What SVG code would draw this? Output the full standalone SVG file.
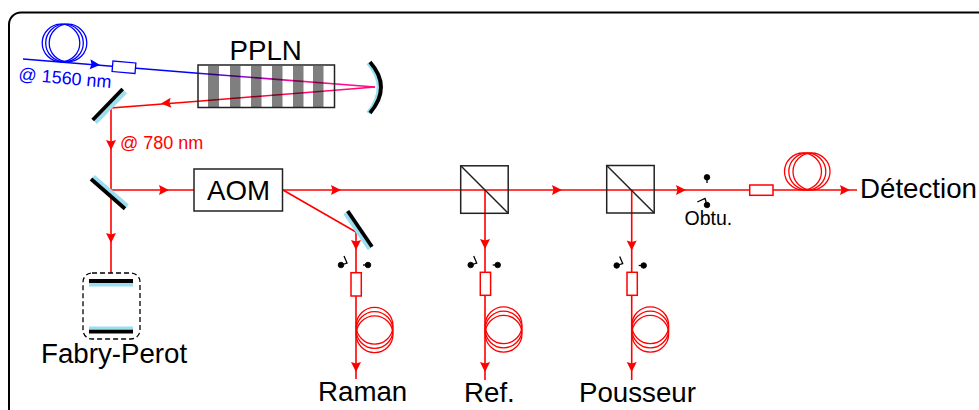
<svg xmlns="http://www.w3.org/2000/svg" width="979" height="410" viewBox="0 0 979 410">
<style>
text{font-family:"Liberation Sans",Arial,sans-serif;fill:#000}
.lbl{font-size:27.700px}
.r{stroke:#f00;fill:none;stroke-width:1.6}
.b{stroke:#00f;fill:none;stroke-width:1.6}
.fr{stroke:#f00;fill:none;stroke-width:1.300}
.fb{stroke:#00f;fill:none;stroke-width:1.300}
.iso{fill:#fff;stroke:#f00;stroke-width:1.500}
.box{fill:none;stroke:#222;stroke-width:1.500}
.mb{stroke:#000;stroke-width:3.800;fill:none}
.mc{stroke:#9adff0;stroke-width:4;fill:none}
.d{fill:#000;stroke:#000;stroke-width:.8}
.sw{stroke:#000;stroke-width:1.300;fill:none}
.st{fill:#000;fill-opacity:.5}
</style>
<defs>
<path id="ar" d="M0 0L-10 -5L-8.500 0L-10 5Z" fill="#f00" stroke="none"/>
<path id="ab" d="M0 0L-10 -5L-8.500 0L-10 5Z" fill="#00f" stroke="none"/>
<linearGradient id="gb" gradientUnits="userSpaceOnUse" x1="198" y1="0" x2="300" y2="0"><stop offset="0" stop-color="#2a00ff"/><stop offset="1" stop-color="#ff0a90"/></linearGradient>
<linearGradient id="gr" gradientUnits="userSpaceOnUse" x1="198" y1="0" x2="320" y2="0"><stop offset="0" stop-color="#f00"/><stop offset="1" stop-color="#ff0a70"/></linearGradient>
<g id="cube"><rect class="box" x="0" y="0" width="47.500" height="47.500"/><path class="box" d="M0 0L47.500 47.500"/></g>
<g id="fv"><circle class="fr" cx="18.600" cy="-4.200" r="18.400"/><circle class="fr" cx="18.600" cy="0" r="18.400"/><circle class="fr" cx="18.600" cy="4.200" r="18.400"/></g>
<g id="sh"><circle class="d" cx="0" cy="0" r="2.800"/><path class="sw" d="M0 0L6 -2L3 -9"/><circle class="d" cx="27" cy="0" r="2.800"/><path class="sw" d="M27 0H22"/></g>
</defs>
<rect id="frame" x="9" y="12.500" width="1000" height="430" rx="12" fill="none" stroke="#000" stroke-width="2"/>

<g id="connectors">
<path class="b" d="M23 59L198 73.300"/>
<path d="M198 73.300L375 87" fill="none" stroke="url(#gb)" stroke-width="1.600"/>
<path d="M375 87L198 101.200" fill="none" stroke="url(#gr)" stroke-width="1.600"/>
<path class="r" d="M198 101.200L111 108V273"/>
<path class="r" d="M111 190H194"/>
<path class="r" d="M283 190H750"/>
<path class="r" d="M773 190H857"/>
<path class="r" d="M283 190L356 232V273M356 296V379"/>
<path class="r" d="M485 190V272M485 295V380"/>
<path class="r" d="M631.700 190V272M631.700 295V380"/>
<use href="#ab" transform="translate(100 65) rotate(4.800)"/>
<use href="#ar" transform="translate(161 103.500) rotate(175.500)"/>
<use href="#ar" transform="translate(111 150) rotate(90)"/>
<use href="#ar" transform="translate(111 243) rotate(90)"/>
<use href="#ar" transform="translate(169 190)"/>
<use href="#ar" transform="translate(341 190)"/>
<use href="#ar" transform="translate(562 190)"/>
<use href="#ar" transform="translate(686 190)"/>
<use href="#ar" transform="translate(850 190)"/>
<use href="#ar" transform="translate(356 250) rotate(90)"/>
<use href="#ar" transform="translate(356 372) rotate(90)"/>
<use href="#ar" transform="translate(485 249) rotate(90)"/>
<use href="#ar" transform="translate(485 372) rotate(90)"/>
<use href="#ar" transform="translate(631.700 250.500) rotate(90)"/>
<use href="#ar" transform="translate(631.700 372) rotate(90)"/>
</g>

<g id="fiber-1560">
<circle class="fb" cx="61" cy="43" r="18.800"/><circle class="fb" cx="64.500" cy="43" r="18.800"/><circle class="fb" cx="68" cy="43" r="18.800"/>
<rect x="112.500" y="62" width="23" height="10.500" fill="#fff" stroke="#00f" stroke-width="1.300" transform="rotate(4.800 124 67)"/>
<text x="18" y="80" font-size="18" style="fill:#00f" transform="rotate(5 18 80)">@ 1560 nm</text>
</g>
<g id="ppln">
<rect class="st" x="208" y="66" width="11" height="41"/><rect class="st" x="230" y="66" width="10.500" height="41"/><rect class="st" x="251" y="66" width="10.500" height="41"/><rect class="st" x="272" y="66" width="10.500" height="41"/><rect class="st" x="293" y="66" width="10.500" height="41"/><rect class="st" x="313" y="66" width="10.500" height="41"/>
<rect class="box" x="198" y="65" width="136.500" height="42.500"/>
<text class="lbl" x="229.500" y="60">PPLN</text>
</g>
<g id="curved-mirror">
<path class="mc" d="M368 63Q389.500 87 368 113"/>
<path class="mb" d="M370 62Q392 87 370 113"/>
</g>
<g id="mirror-1"><path class="mc" d="M95.500 122.500L125.500 92"/><path class="mb" d="M92.700 120L122.700 89"/></g>
<text id="label-780" x="120" y="149" font-size="18" style="fill:#f00">@ 780 nm</text>
<g id="mirror-2"><path class="mc" d="M93.500 176.500L127.500 206"/><path class="mb" d="M91 179L125 208.700"/></g>
<g id="fabry-perot">
<rect x="83" y="273" width="57" height="66" rx="9" fill="#fff" stroke="#000" stroke-width="1.300" stroke-dasharray="5 3"/>
<path class="mc" d="M89 284.500H133M89 328.500H133"/>
<path class="mb" d="M89 281H133M89 331.700H133"/>
<text class="lbl" x="41" y="363">Fabry-Perot</text>
</g>
<g id="aom"><rect class="box" x="194" y="169" width="88.500" height="42"/><text class="lbl" x="238.500" y="199.500" text-anchor="middle">AOM</text></g>
<g id="mirror-3"><path class="mc" d="M345 213L369.500 249"/><path class="mb" d="M347.700 211L372 246.700"/></g>
<g id="raman">
<use href="#sh" transform="translate(341 265)"/>
<rect class="iso" x="351" y="272.700" width="10.300" height="23.300"/>
<use href="#fv" transform="translate(356 330)"/>
<text class="lbl" x="318" y="401">Raman</text>
</g>
<g id="cube-ref"><use href="#cube" transform="translate(460.700 165.800)"/></g>
<g id="ref">
<use href="#sh" transform="translate(470.700 265)"/>
<rect class="iso" x="480.300" y="272.300" width="10.300" height="23"/>
<use href="#fv" transform="translate(485 329.500)"/>
<text class="lbl" x="464" y="401.500">Ref.</text>
</g>
<g id="cube-pousseur"><use href="#cube" transform="translate(606.700 165.500)"/></g>
<g id="pousseur">
<use href="#sh" transform="translate(616.700 265.500)"/>
<rect class="iso" x="627" y="272.300" width="10.300" height="23"/>
<use href="#fv" transform="translate(631.700 329.500)"/>
<text class="lbl" x="579" y="401.500">Pousseur</text>
</g>
<g id="obturateur">
<circle class="d" cx="707" cy="177.300" r="2.800"/><path class="sw" d="M707 177V183"/>
<circle class="d" cx="707" cy="205" r="2.800"/><path class="sw" d="M707 205L705 198.500L697.300 202"/>
<text x="684.500" y="225" font-size="19.500">Obtu.</text>
</g>
<g id="detection">
<rect class="iso" x="749.700" y="185" width="23.300" height="10.300"/>
<circle class="fr" cx="803" cy="171.500" r="18.500"/><circle class="fr" cx="807.300" cy="171.500" r="18.500"/><circle class="fr" cx="811.500" cy="171.500" r="18.500"/>
<text class="lbl" x="860" y="198">Détection</text>
</g>
</svg>
